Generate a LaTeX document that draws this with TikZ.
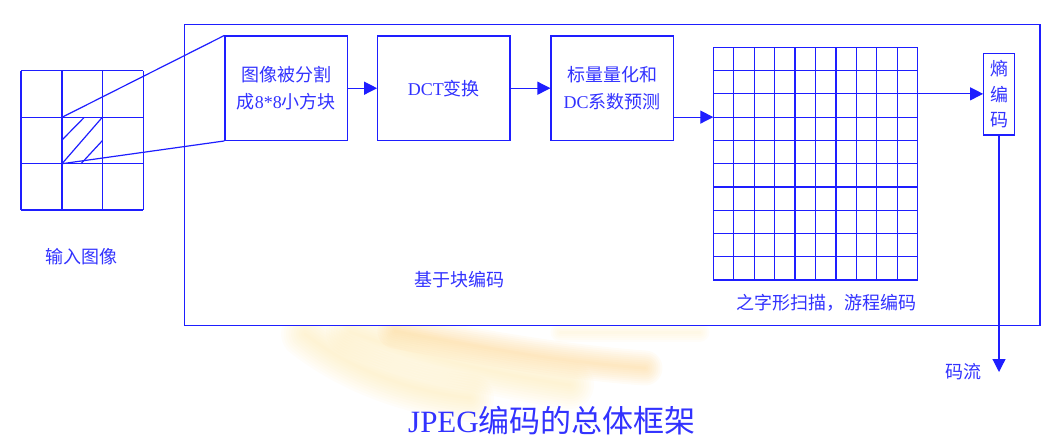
\documentclass[tikz,border=0pt]{standalone}
\usepackage{fontspec}
\setmainfont{Liberation Serif}
\newfontfamily\cjk{Noto Sans CJK SC}
\usetikzlibrary{arrows.meta}
\definecolor{lineblue}{RGB}{30,30,255}
\definecolor{txtblue}{RGB}{50,50,255}
\definecolor{glowA}{RGB}{252,200,110}
\definecolor{glowB}{RGB}{253,228,160}
\begin{document}
\begin{tikzpicture}[x=1pt,y=-1pt,
  ln/.style={draw=lineblue,line width=1.2pt},
  stepbox/.style={ln,inner sep=0pt,text=txtblue,align=center,
     font=\cjk\fontsize{18}{27}\selectfont},
  lbl/.style={text=txtblue,inner sep=0pt,align=center,
     font=\cjk\fontsize{18}{25.5}\selectfont},
  arr/.style={ln,-{Triangle[length=13pt,width=13pt]}},
  glow/.style={line cap=round,opacity=0.06}]
\useasboundingbox (0,0) rectangle (1064,442);
% decorative glow
\foreach \w in {3,7,...,35}{
  \draw[glow,glowA,line width=\w pt] (395,331) .. controls (470,345) and (560,362) .. (645,368);
}
\foreach \w in {3,8,...,48}{
  \draw[glow,glowB,line width=\w pt] (305,334) .. controls (345,365) and (400,390) .. (470,398);
  \draw[glow,glowB,line width=\w pt] (350,332) .. controls (400,350) and (480,372) .. (570,385);
}
\foreach \w in {3,7,...,19}{
  \draw[glow,glowB,line width=\w pt] (560,332) -- (700,332);
}
% outer block
\node[ln,fill=white,minimum width=855.7pt,minimum height=301pt,inner sep=0pt] (outer) at (612.15,175.2) {};
% input image grid
\coordinate (g1) at (62,117.3);
\coordinate (g2) at (62,163.7);
\foreach \x in {21,62,102.3,143.3} \draw[ln] (\x,70.7) -- (\x,210);
\foreach \y in {70.7,117.3,163.7,210} \draw[ln] (21,\y) -- (143.3,\y);
\draw[ln] (62,140) -- (84.3,117.3);
\draw[ln] (62,163.7) -- (102.3,117.3);
\draw[ln] (81,163.7) -- (102.3,140.7);
\node[lbl] (inlbl) at (81.5,257) {输入图像};
% process boxes
\node[stepbox,minimum width=122.7pt,minimum height=104.3pt] (b1) at (286.35,88.2)
  {图像被分割\\成{\rmfamily 8*8}小方块};
\node[stepbox,minimum width=132.3pt,minimum height=104.3pt] (b2) at (443.85,88.2)
  {{\rmfamily DCT}变换};
\node[stepbox,minimum width=122.3pt,minimum height=104.3pt] (b3) at (612.15,88.2)
  {标量量化和\\{\rmfamily DC}系数预测};
\draw[ln] (g1) -- (b1.north west);
\draw[ln] (g2) -- (b1.south west);
\draw[arr] (b1) -- (b2);
\draw[arr] (b2) -- (b3);
% zigzag grid
\foreach \i in {0,...,10}{
  \draw[ln] ({713.3+\i*20.44},47.3) -- ({713.3+\i*20.44},280);
  \draw[ln] (713.3,{47.3+\i*23.27}) -- (917.7,{47.3+\i*23.27});
}
\coordinate (gin) at (713.3,117.1);
\coordinate (gout) at (917.7,93.84);
\draw[arr] (b3.east |- gin) -- (gin);
% entropy coder
\node[stepbox,minimum width=30.6pt,minimum height=81.7pt,
  font=\cjk\fontsize{18}{25.5}\selectfont] (ent) at (999,94.2) {熵\\编\\码};
\draw[arr] (gout) -- (ent.west |- gout);
\coordinate (outend) at (999,372);
\draw[arr] (ent.south) -- (outend);
% labels
\node[lbl] (blk) at (459.5,280) {基于块编码};
\node[lbl] (zz) at (826,303) {之字形扫描，游程编码};
\node[lbl] (ml) at (963.5,372) {码流};
\node[text=txtblue,inner sep=0pt,font=\cjk\fontsize{31}{36}\selectfont] (title) at (552,421)
  {{\rmfamily JPEG}编码的总体框架};
\end{tikzpicture}
\end{document}
